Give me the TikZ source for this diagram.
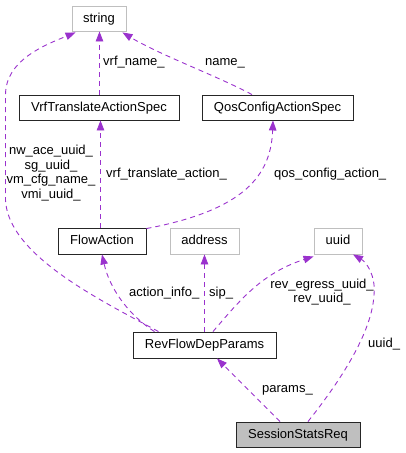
\documentclass[tikz,border=0pt]{standalone}
\usepackage{fontspec}
\setmainfont{Liberation Sans}
\usetikzlibrary{arrows.meta}
\definecolor{edgec}{HTML}{9A32CD}
\definecolor{grayb}{HTML}{BFBFBF}
\begin{document}
\begin{tikzpicture}[x=1pt,y=-1pt,
  every node/.style={font=\fontsize{13}{14.5}\selectfont},
  box/.style={draw=black!85,line width=0.9pt,fill=white,inner sep=0pt,text height=9.5pt,text depth=2.5pt},
  gbox/.style={box,draw=grayb},
  lbl/.style={inner sep=0pt,text height=9.5pt,text depth=2.5pt},
  dep/.style={draw=edgec,line width=0.9pt,dash pattern=on 5pt off 4pt,
    -{Triangle[length=10pt,width=7.5pt,fill=edgec]}},
  ]
\useasboundingbox (0,0) rectangle (406,453);
% nodes
\node[gbox,minimum width=54pt,minimum height=25pt] (string) at (99,18.5) {string};
\node[box,minimum width=160pt,minimum height=25pt] (vrf) at (99,107.5) {VrfTranslateActionSpec};
\node[box,minimum width=151pt,minimum height=25pt] (qos) at (277.5,107.5) {QosConfigActionSpec};
\node[box,minimum width=88pt,minimum height=26pt] (flow) at (102,241) {FlowAction};
\node[gbox,minimum width=69pt,minimum height=26pt] (addr) at (204.5,241) {address};
\node[gbox,minimum width=48pt,minimum height=26pt] (uuid) at (338,241) {uuid};
\node[box,minimum width=143pt,minimum height=26pt] (rev) at (204.5,345) {RevFlowDepParams};
\node[box,fill=grayb,minimum width=124pt,minimum height=25pt] (sess) at (298,434.5) {SessionStatsReq};
% edges
\draw[dep] ([xshift=0.5pt]vrf.north) -- ([xshift=0.5pt]string.south);
\draw[dep] ([xshift=-25.5pt]qos.north) .. controls (215,75) and (160,55) .. ([xshift=-4pt,yshift=-1pt]string.south east);
\draw[dep] ([xshift=-1.5pt]flow.north) -- ([xshift=1.5pt]vrf.south);
\draw[dep] ([yshift=-1pt]flow.north east) .. controls (245,210) and (271,175) .. ([xshift=-4.5pt]qos.south);
\draw[dep] ([xshift=-46pt]rev.north) .. controls (100,300) and (8,255) .. (5.5,200)
  -- (5.5,95) .. controls (5.5,60) and (45,45) .. ([xshift=4pt,yshift=-1pt]string.south west);
\draw[dep] ([xshift=-50pt]rev.north) .. controls (130,316) and (110,290) .. (flow.south);
\draw[dep] (rev.north) -- (addr.south);
\draw[dep] ([xshift=8.5pt]rev.north) .. controls (240,300) and (262,273) .. ([yshift=-2pt]uuid.south west);
\draw[dep] ([xshift=10pt]sess.north) .. controls (345,375) and (372,330) .. (374,295)
  .. controls (376,275) and (366,262) .. ([xshift=15pt]uuid.south);
\draw[dep] ([xshift=-18pt]sess.north) -- ([xshift=12.5pt]rev.south);
% labels
\node[lbl,anchor=west] (l1) at (103,62) {vrf\_name\_};
\node[lbl,anchor=west] (l2) at (205,62) {name\_};
\node[lbl,anchor=west] (l3) at (106,174) {vrf\_translate\_action\_};
\node[lbl,anchor=west] (l4) at (274,174) {qos\_config\_action\_};
\node[inner sep=0pt,align=center] (l5) at (51,173) {nw\_ace\_uuid\_\\sg\_uuid\_\\vm\_cfg\_name\_\\vmi\_uuid\_};
\node[lbl,anchor=west] (l6) at (129,293) {action\_info\_};
\node[lbl,anchor=west] (l7) at (209,293) {sip\_};
\node[inner sep=0pt,align=center] (l8) at (322,292) {rev\_egress\_uuid\_\\rev\_uuid\_};
\node[lbl,anchor=west] (l9) at (368,344) {uuid\_};
\node[lbl,anchor=west] (l10) at (262,389) {params\_};
\end{tikzpicture}
\end{document}
